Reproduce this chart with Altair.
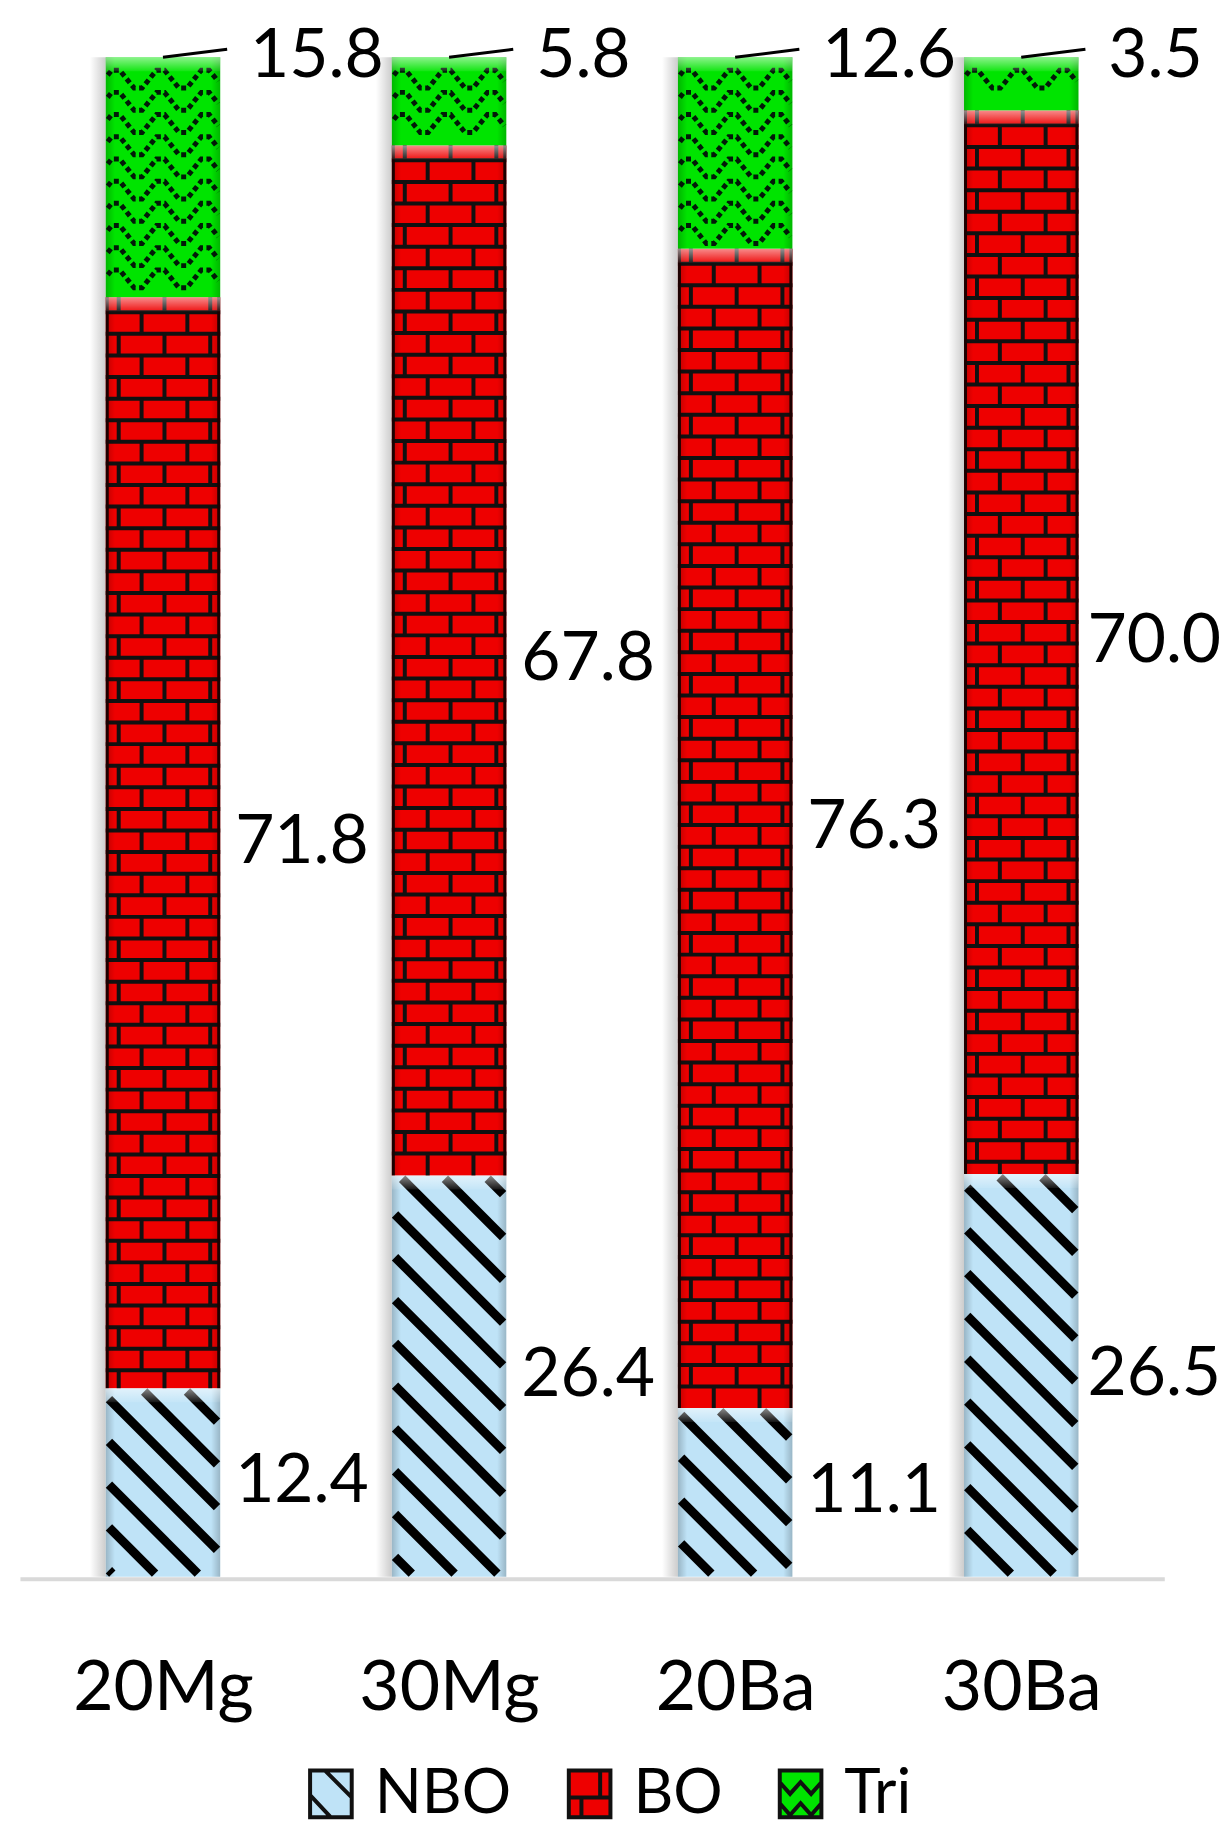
import math
import altair as alt
import pandas as pd

# ---------------- data ----------------
categories = ["20Mg", "30Mg", "20Ba", "30Ba"]
series_names = ["NBO", "BO", "Tri"]
nbo = [12.4, 26.4, 11.1, 26.5]
bo = [71.8, 67.8, 76.3, 70.0]
tri = [15.8, 5.8, 12.6, 3.5]

colors = ["#bfe3f7", "#ee0000", "#00e400"]

# ---------------- layout / style constants ----------------
W, H = 1150, 1527
PAD_IN, PAD_OUT = 0.6, 0.3
NSTEP = len(categories) - PAD_IN + 2 * PAD_OUT
STEP = W / NSTEP
BAR_W = STEP * (1 - PAD_IN)
FONT = "Lato"

rows = []
for i, c in enumerate(categories):
    for j, (s, vals) in enumerate(zip(series_names, [nbo, bo, tri])):
        rows.append({"cat": c, "idx": i, "series": s, "order": j, "value": vals[i], "color": colors[j]})
df = pd.DataFrame(rows)


def xd(X):
    return X / STEP


def yd(Y):
    return Y / H * 100


# ---------------- texture tables derived from the values ----------------
stripes, bricks_h, bricks_v, edges, zig, highlights, shades, shadows, leaders = ([] for _ in range(9))


def clip_poly(pts, lo, hi):
    out = []
    for (x1, y1), (x2, y2) in zip(pts, pts[1:]):
        if x2 <= lo or x1 >= hi or x2 == x1:
            continue
        a, b = max(x1, lo), min(x2, hi)
        ya = y1 + (y2 - y1) * (a - x1) / (x2 - x1)
        yb = y1 + (y2 - y1) * (b - x1) / (x2 - x1)
        if not out:
            out.append((a, ya))
        out.append((b, yb))
    return out


for i, c in enumerate(categories):
    L = (i + PAD_OUT) * STEP
    R = L + BAR_W
    y_nbo = nbo[i] * H / 100
    y_bo = (nbo[i] + bo[i]) * H / 100
    y_top = H

    # diagonal stripes on NBO
    period, trim = 43.0, 3.2
    k0 = math.floor(L / period) - 1
    k1 = math.ceil((R + y_nbo) / period) + 1
    for k in range(k0, k1 + 1):
        cc = k * period + 10
        xs = max(L, cc - y_nbo) + trim
        xe = min(R, cc) - trim
        if xe - xs > 2:
            stripes.append({"x": xd(xs), "y": yd(cc - xs), "x2": xd(xe), "y2": yd(cc - xe)})

    # bricks on BO
    lines = []
    yy = y_bo - 15
    while yy > y_nbo + 3:
        lines.append(yy)
        yy -= 21.7
    for yy in lines:
        bricks_h.append({"x": xd(L), "x2": xd(R), "y": yd(yy)})
    bounds = [y_bo] + lines + [y_nbo]
    for r in range(len(bounds) - 1):
        ya, yb = bounds[r], bounds[r + 1]
        X = L + (13 if r % 2 == 0 else 36)
        while X < R - 3:
            bricks_v.append({"x": xd(X), "y": yd(yb), "y2": yd(ya)})
            X += 46
    for X in (L + 1.5, R - 1.5):
        edges.append({"x": xd(X), "y": yd(y_nbo), "y2": yd(y_bo)})

    # dotted zigzags on Tri (flat peaks and valleys)
    k = 0
    zp, amp, flat = 45.0, 18.0, 4.0
    while True:
        yv = y_top - 31 - 22.3 * k
        if yv < y_bo + 3:
            break
        yp = yv + amp
        pts = []
        X = L + 10 - zp
        while X < R + zp:
            pts += [(X - flat, yp), (X + flat, yp), (X + zp / 2 - flat, yv), (X + zp / 2 + flat, yv)]
            X += zp
        for (px, py) in clip_poly(pts, L + 2, R - 2):
            zig.append({"row": f"{c}-{k}", "x": xd(px), "y": yd(py)})
        k += 1

    # glossy highlight at each segment top, edge shading, left shadow, leader line
    for top in (y_nbo, y_bo, y_top):
        highlights.append({"x": xd(L), "x2": xd(R), "y": yd(top - 14), "y2": yd(top)})
    shades.append({"x": xd(L), "x2": xd(R), "y": 0, "y2": 100})
    shadows.append({"x": xd(L - 16), "x2": xd(L), "y": 0, "y2": 100})
    leaders.append({"x": xd(L + BAR_W / 2), "x2": xd(R + 7), "y": 100, "y2": yd(H + 8)})

# ---------------- scales / axis ----------------
xscale = alt.Scale(domain=[0, NSTEP], nice=False, zero=False)
yscale = alt.Scale(domain=[0, 100], nice=False, zero=True)
fill_scale = alt.Scale(domain=series_names, range=colors)
CENTER = PAD_OUT + (1 - PAD_IN) / 2
label_expr = "[" + ",".join(f"'{c}'" for c in categories) + "][round(datum.value - %s)]" % CENTER

x_axis = alt.Axis(title=None, values=[i + CENTER for i in range(len(categories))],
                  labelExpr=label_expr, labelAngle=0, labelFont=FONT, labelFontSize=70,
                  labelColor="black", ticks=False, tickSize=0, domainColor="#d9d9d9",
                  domainWidth=4, labelPadding=131, labelBaseline="alphabetic",
                  grid=False, offset=2, labelFlush=False, labelOverlap=False, labelLimit=500)


def xq(f):
    return alt.X(f, type="quantitative", scale=xscale, axis=x_axis)


def yq(f):
    return alt.Y(f, type="quantitative", scale=yscale, axis=None)


sq = "M-0.89,-1H0.89V1H-0.89Z"
shapes = [
    sq + "M-0.89,0.05L0.0,1M-0.25,-1L0.89,0.15",
    sq + "M-0.89,0.15H0.89M0.45,-1V0.15M-0.35,0.15V1",
    sq + "M0.89,-0.5L0.45,0L0,-0.5L-0.45,0L-0.89,-0.5M0.89,0.4L0.45,0.9L0,0.4L-0.45,0.9L-0.89,0.4",
]

legend_spec = alt.Legend(
    orient="none", legendX=281.5, legendY=1714, direction="horizontal", title=None,
    labelFont=FONT, labelFontSize=62, labelColor="black", symbolSize=2209,
    symbolStrokeWidth=4, labelOffset=13, columnPadding=47,
    padding=0, columns=3, labelLimit=400,
)

base = alt.Chart(df).transform_stack(
    stack="value", groupby=["cat"], as_=["y0", "y1"], sort=[alt.SortField("order")]
).transform_calculate(
    xl=f"datum.idx + {PAD_OUT}",
    xr=f"datum.idx + {PAD_OUT + 1 - PAD_IN}",
    xc=f"datum.idx + {CENTER}",
    ymid="50",
)

shadow_layer = alt.Chart(pd.DataFrame(shadows)).mark_rect(
    fill={"gradient": "linear", "x1": 0, "y1": 0, "x2": 1, "y2": 0,
          "stops": [{"offset": 0, "color": "rgba(0,0,0,0)"},
                    {"offset": 1, "color": "rgba(0,0,0,0.2)"}]}
).encode(x=xq("x"), x2="x2", y=yq("y"), y2="y2")

legend_pts = base.mark_point(filled=True, size=20, opacity=1, strokeWidth=2.5).encode(
    x=xq("xc"),
    y=yq("ymid"),
    fill=alt.Fill("series:N", scale=fill_scale, sort=series_names, legend=legend_spec),
    stroke=alt.Stroke("series:N", scale=alt.Scale(domain=series_names, range=["#111111"] * 3),
                      sort=series_names, legend=legend_spec),
    shape=alt.Shape("series:N", scale=alt.Scale(domain=series_names, range=shapes),
                    sort=series_names, legend=legend_spec),
)

bars = base.mark_rect().encode(
    x=xq("xl"),
    x2="xr",
    y=yq("y0"),
    y2="y1",
    fill=alt.Fill("color:N", scale=None),
)

stripe_layer = alt.Chart(pd.DataFrame(stripes)).mark_rule(color="black", strokeWidth=9, strokeCap="butt").encode(
    x=xq("x"), x2="x2", y=yq("y"), y2="y2")
brick_h_layer = alt.Chart(pd.DataFrame(bricks_h)).mark_rule(color="#111111", strokeWidth=4).encode(
    x=xq("x"), x2="x2", y=yq("y"))
brick_v_layer = alt.Chart(pd.DataFrame(bricks_v)).mark_rule(color="#111111", strokeWidth=4).encode(
    x=xq("x"), y=yq("y"), y2="y2")
edge_layer = alt.Chart(pd.DataFrame(edges)).mark_rule(color="#220000", strokeWidth=3).encode(
    x=xq("x"), y=yq("y"), y2="y2")
zig_layer = alt.Chart(pd.DataFrame(zig)).mark_line(color="#021a08", strokeWidth=5, strokeDash=[5, 3.5]).encode(
    x=xq("x"), y=yq("y"), detail="row:N")

highlight_layer = alt.Chart(pd.DataFrame(highlights)).mark_rect(
    fill={"gradient": "linear", "x1": 0, "y1": 0, "x2": 0, "y2": 1,
          "stops": [{"offset": 0, "color": "rgba(255,255,255,0.55)"},
                    {"offset": 1, "color": "rgba(255,255,255,0.08)"}]}
).encode(x=xq("x"), x2="x2", y=yq("y"), y2="y2")

shade_layer = alt.Chart(pd.DataFrame(shades)).mark_rect(
    fill={"gradient": "linear", "x1": 0, "y1": 0, "x2": 1, "y2": 0,
          "stops": [{"offset": 0, "color": "rgba(0,0,0,0.2)"},
                    {"offset": 0.08, "color": "rgba(0,0,0,0)"},
                    {"offset": 0.92, "color": "rgba(0,0,0,0)"},
                    {"offset": 1, "color": "rgba(0,0,0,0.2)"}]}
).encode(x=xq("x"), x2="x2", y=yq("y"), y2="y2")

leader_layer = alt.Chart(pd.DataFrame(leaders)).mark_rule(color="black", strokeWidth=3).encode(
    x=xq("x"), x2="x2", y=yq("y"), y2="y2")

lab = base.transform_calculate(
    ly="datum.series == 'Tri' ? 100 : (datum.y0 + datum.y1) / 2",
    txt="format(datum.value, '.1f')",
)
text_kw = dict(font=FONT, fontSize=68, align="left", baseline="middle", color="black")
lab_enc = dict(x=xq("xr"), y=yq("ly"), text="txt:N")
top_labels = lab.transform_filter("datum.series == 'Tri'").mark_text(dx=30, **text_kw).encode(**lab_enc)
mid_labels = lab.transform_filter("datum.series != 'Tri' && datum.cat != '30Ba'").mark_text(dx=15, **text_kw).encode(**lab_enc)
last_labels = lab.transform_filter("datum.series != 'Tri' && datum.cat == '30Ba'").mark_text(dx=9, **text_kw).encode(**lab_enc)

chart = alt.layer(
    shadow_layer, legend_pts, bars, stripe_layer, brick_h_layer, brick_v_layer, edge_layer,
    zig_layer, shade_layer, highlight_layer, leader_layer, top_labels, mid_labels, last_labels,
).properties(
    width=W, height=H,
    background="white",
    padding={"left": 12, "top": 45, "right": 58, "bottom": 250},
    autosize=alt.AutoSizeParams(type="none"),
).configure_view(stroke=None)

chart.save("out.html", embed_options={"renderer": "svg", "actions": False})
